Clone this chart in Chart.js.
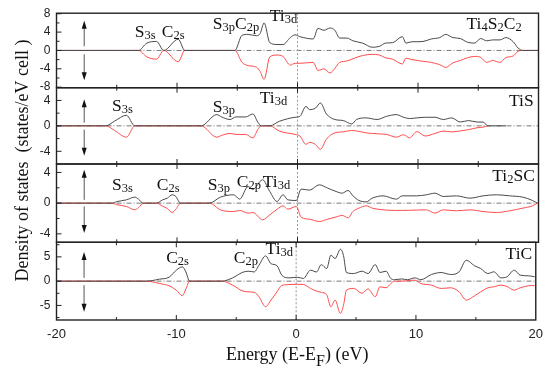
<!DOCTYPE html>
<html><head><meta charset="utf-8">
<script src="https://cdn.jsdelivr.net/npm/chart.js@4"></script>
<style>
html,body{margin:0;padding:0;background:#fff;}
#wrap{position:relative;width:550px;height:369px;background:#fff;}
canvas{position:absolute;left:0;top:0;}
</style></head><body>
<div id="wrap">
<canvas id="c1" width="550" height="369"></canvas>
<canvas id="c2" width="550" height="369"></canvas>
<canvas id="c3" width="550" height="369"></canvas>
<canvas id="c4" width="550" height="369"></canvas>
</div>
<script>
// ---------- data ----------
const xTickLabels = [-20, -10, 0, 10, 20];

const energyTi4S2C2 = [-20,-13.2,-12.5,-11.7,-11.1,-9.9,-9.35,-5.2,-4.6,-4.1,-3.4,-3.1,-2.77,-2.3,-1.7,-1.2,-0.6,-0.2,0.2,1.3,1.7,2.2,2.7,3.1,3.5,4.1,4.6,5.4,6.2,6.8,7.3,7.9,8.7,9.0,9.5,10.0,10.5,11.1,11.8,12.3,12.9,13.5,14.1,14.7,15.2,15.7,16.2,16.8,17.3,17.9,18.3,18.7,20];
const upTi4S2C2 = [0,0,1.6,1.96,0,2.45,0,0,3.3,3.5,3.2,3.7,6.0,1.7,1.3,1.3,2.8,3.4,3.0,2.5,4.8,4.4,4.9,4.4,2.7,2.7,2.1,1.6,0.7,0.9,1.6,1.7,3.0,1.6,1.9,1.9,2.0,2.5,2.8,3.5,2.8,2.6,1.8,1.6,2.6,2.1,2.3,2.3,2.8,1.9,0.55,0,0];
const downTi4S2C2 = [0,0,-1.4,-1.9,0,-2.46,0,0,-2.6,-3.3,-3.66,-4.6,-6.3,-1.4,-1.0,-1.3,-3.2,-2.8,-2.8,-2.6,-4.36,-4.0,-4.9,-3.9,-2.6,-2.3,-1.8,-1.1,-0.85,-1.0,-1.6,-1.9,-2.95,-1.7,-2.0,-2.2,-2.4,-2.6,-3.1,-3.7,-2.7,-2.2,-1.6,-1.3,-1.5,-2.6,-2.2,-2.6,-1.55,-1.2,-0.2,0,0];

const energyTiS = [-20,-15.9,-15.2,-14.2,-13.5,-8.0,-6.7,-6.3,-5.6,-5.1,-4.3,-3.7,-3.3,-3.0,-2.3,-1.5,-0.2,0.2,0.7,1.0,1.5,1.9,2.4,3.1,3.8,4.5,4.9,5.7,6.6,7.4,8.2,8.8,9.3,9.9,10.6,11.4,12.1,12.8,13.5,14.2,14.9,15.4,15.8,17.3];
const upTiS = [0,0,0.72,1.66,0,0,1.77,1.4,1.0,1.4,1.4,1.87,0.6,0,0,0.72,1.35,1.5,3.06,2.55,2.8,3.6,1.87,1.0,0.83,0.3,1.0,1.25,1.0,1.5,1.77,1.35,1.15,1.25,1.35,1.35,1.0,1.25,0.6,0.83,0.6,0.6,0,0];
const downTiS = [0,0,-0.7,-1.78,0,0,-1.78,-1.5,-1.2,-1.35,-1.35,-1.9,-0.6,0,0,-0.83,-1.35,-1.6,-2.9,-2.6,-2.95,-3.7,-2.1,-1.1,-0.94,-0.73,-0.8,-1.1,-1.25,-1.35,-1.78,-1.4,-1.9,-0.9,-1.6,-1.2,-0.83,-0.95,-0.8,-0.6,-0.3,-0.2,0,null];

const energyTi2SC = [-20,-15.4,-15.0,-14.2,-13.5,-13.2,-12.8,-11.7,-11.2,-10.8,-10.4,-10.1,-9.7,-7.3,-6.4,-5.3,-4.8,-4.1,-3.7,-2.9,-2.3,-1.7,-1.2,-0.8,-0.1,0.3,1.0,1.8,2.5,3.2,3.7,4.2,4.6,5.1,5.7,6.2,7.1,8.2,8.7,9.9,10.7,11.4,12.1,13.2,14.3,15.4,16.5,17.6,18.7,19.5,19.9];
const upTi2SC = [0,0,0.2,0.43,0.78,0.52,0,0,0.43,0.65,1.09,0.87,0,0,0.78,1.09,0.52,2.17,1.8,3.04,1.52,0.22,1.09,0.43,0.35,1.83,1.7,2.39,1.96,1.52,1.3,1.65,0.95,0.35,0.17,0.65,0.95,0.52,0.95,0.95,1.09,1.3,0.87,0.95,0.65,0.95,1.09,0.95,0.78,0.35,0];
const downTi2SC = [0,0,-0.2,-0.43,-0.87,-0.6,0,0,-0.4,-0.7,-1.22,-0.8,0,0,-0.87,-1.09,-0.95,-1.3,-1.22,-2.17,-1.52,-0.8,-0.35,-0.78,-0.43,-1.83,-2.09,-2.39,-2.09,-1.8,-1.6,-1.9,-1.09,-0.65,-0.35,-0.65,-0.87,-0.95,-0.95,-0.9,-0.87,-1.3,-0.87,-1.0,-0.87,-1.09,-1.22,-1.0,-0.65,-0.35,0];

const energyTiC = [-20,-12.5,-11.4,-10.6,-10.0,-9.5,-9.2,-8.9,-6.2,-5.3,-4.5,-4.0,-3.5,-3.1,-2.55,-2.1,-1.6,-1.2,-0.6,0.1,0.6,1.2,1.7,2.1,2.55,2.9,3.25,3.7,3.95,4.2,4.8,5.5,6.0,6.6,7.0,7.5,7.9,8.2,8.8,9.3,9.9,10.4,11.3,12.1,12.9,13.6,14.2,14.9,15.4,16.0,16.5,17.1,17.6,18.2,18.7,19.4,19.9];
const upTiC = [0,0,0.41,0.82,2.26,2.94,1.9,0,0,0.68,1.78,2.05,1.9,3.29,5.2,3.6,3.2,1.23,0.68,0.8,0.55,2.26,1.9,3.4,2.6,5.34,4.66,6.57,5.3,1.78,1.57,2.05,1.57,3.4,1.78,2.05,0.55,0.3,0.45,0.3,0.68,0.3,1.37,1.78,1.37,1.92,4.3,3.15,2.6,1.57,1.92,0.68,0.9,2.26,1.23,1.1,0.9];
const downTiC = [0,0,-0.48,-0.96,-1.85,-3.0,-1.6,0,0,-0.82,-2.0,-2.2,-2.3,-3.2,-5.27,-3.9,-2.2,-0.9,-0.7,-0.65,-0.68,-1.5,-2.05,-2.3,-2.8,-5.27,-3.9,-6.64,-5.0,-1.85,-1.5,-2.5,-1.6,-3.2,-1.16,-1.37,-0.5,0,0,0.1,0.2,-0.48,-0.82,-1.5,-1.37,-2.2,-3.9,-3.0,-2.2,-1.37,-1.16,-0.82,-1.1,-1.85,-1.37,-0.96,-0.9];

// text annotations (parts: [text, isSubscript])
const notesTi4S2C2 = [
  {parts:[['S'],['3s',1]], e:-13.5, v:2.95},
  {parts:[['C'],['2s',1]], e:-11.26, v:2.95},
  {parts:[['S'],['3p',1],['C'],['2p',1]], e:-7.03, v:4.76},
  {parts:[['Ti'],['3d',1]], e:-2.3, v:6.5},
  {parts:[['Ti'],['4',1],['S'],['2',1],['C'],['2',1]], e:18.6, v:4.6, align:'right'}
];
const notesTiS = [
  {parts:[['S'],['3s',1]], e:-15.4, v:2.28},
  {parts:[['S'],['3p',1]], e:-7.03, v:2.19},
  {parts:[['Ti'],['3d',1]], e:-3.13, v:3.6},
  {parts:[['TiS']], e:19.6, v:3.2, align:'right'}
];
const notesTi2SC = [
  {parts:[['S'],['3s',1]], e:-15.4, v:1.73},
  {parts:[['C'],['2s',1]], e:-11.68, v:1.73},
  {parts:[['S'],['3p',1]], e:-7.44, v:1.73},
  {parts:[['C'],['2p',1]], e:-5.04, v:2.09},
  {parts:[['Ti'],['3d',1]], e:-2.88, v:2.09},
  {parts:[['Ti'],['2',1],['SC']], e:19.7, v:2.95, align:'right'}
];
const notesTiC = [
  {parts:[['C'],['2s',1]], e:-10.85, v:3.84},
  {parts:[['C'],['2p',1]], e:-5.2, v:3.84},
  {parts:[['Ti'],['3d',1]], e:-2.55, v:5.69},
  {parts:[['TiC']], e:19.7, v:4.5, align:'right'}
];

// ---------- layout ----------
const SERIF = '"Liberation Serif", "Times New Roman", serif';
const SANS = '"Liberation Sans", Arial, sans-serif';
const panels = [
  {canvas:'c1', energy:energyTi4S2C2, up:upTi4S2C2, down:downTi4S2C2, notes:notesTi4S2C2,
   min:-8.12, max:8.12, top:10.5, bottom:87.7, major:[-8,-4,0,4,8], minor:[-6,-2,2,6], arrows:[0.9,6.5,-0.85,-6.5], topTicks:false},
  {canvas:'c2', energy:energyTiS, up:upTiS, down:downTiS, notes:notesTiS,
   min:-6, max:6, top:87.7, bottom:164, major:[-4,0,4], minor:[-2,2], arrows:[0.5,4.2,-0.6,-4.7], topTicks:true},
  {canvas:'c3', energy:energyTi2SC, up:upTi2SC, down:downTi2SC, notes:notesTi2SC,
   min:-5.1, max:5.1, top:164, bottom:242.3, major:[-4,0,4], minor:[-2,2], arrows:[0.43,4.34,-0.43,-3.9], topTicks:true},
  {canvas:'c4', energy:energyTiC, up:upTiC, down:downTiC, notes:notesTiC,
   min:-8, max:8, top:242.3, bottom:320, major:[-5,0,5], minor:[-7.5,-2.5,2.5,7.5], arrows:[0.68,6.0,-0.82,-6.3], topTicks:true}
];
const xMinor = [-15,-5,5,15];
const arrowE = -17.7;

function drawRich(ctx, parts, x, y, align, size, subSize, subDrop) {
  const widths = parts.map(p => { ctx.font = (p[1] ? subSize : size) + 'px ' + SERIF; return ctx.measureText(p[0]).width; });
  const total = widths.reduce((a,b)=>a+b,0);
  let cx = align === 'right' ? x - total : (align === 'center' ? x - total/2 : x);
  ctx.textAlign = 'left'; ctx.textBaseline = 'alphabetic';
  parts.forEach((p,i) => {
    ctx.font = (p[1] ? subSize : size) + 'px ' + SERIF;
    ctx.fillText(p[0], cx, p[1] ? y + subDrop : y);
    cx += widths[i];
  });
}

function drawArrow(ctx, x, yFrom, yTo) {
  const dir = yTo < yFrom ? -1 : 1;
  ctx.strokeStyle = '#555'; ctx.lineWidth = 1; ctx.setLineDash([]);
  ctx.beginPath(); ctx.moveTo(x, yFrom); ctx.lineTo(x, yTo - dir*4); ctx.stroke();
  ctx.fillStyle = '#111';
  ctx.beginPath(); ctx.moveTo(x, yTo); ctx.lineTo(x-2.5, yTo - dir*8); ctx.lineTo(x+2.5, yTo - dir*8); ctx.closePath(); ctx.fill();
}

function panelPlugin(p, isLast) {
  return {
    id: 'panelDeco',
    beforeDatasetsDraw(chart) {
      const {ctx, chartArea:a, scales:{x, y}} = chart;
      ctx.save();
      const y0 = y.getPixelForValue(0);
      ctx.strokeStyle = '#555'; ctx.lineWidth = 0.8; ctx.setLineDash([5,2,1,2]);
      ctx.beginPath(); ctx.moveTo(a.left, y0); ctx.lineTo(a.right, y0); ctx.stroke();
      const x0 = x.getPixelForValue(0);
      ctx.strokeStyle = '#999'; ctx.lineWidth = 1; ctx.setLineDash([2,2]);
      ctx.beginPath(); ctx.moveTo(x0, a.top); ctx.lineTo(x0, a.bottom); ctx.stroke();
      ctx.restore();
    },
    afterDatasetsDraw(chart) {
      const {ctx, chartArea:a, scales:{x, y}} = chart;
      ctx.save();
      ctx.setLineDash([]);
      ctx.strokeStyle = '#222'; ctx.lineWidth = 1.4;
      ctx.strokeRect(a.left, a.top, a.right - a.left, a.bottom - a.top);
      ctx.lineWidth = 1;
      ctx.beginPath();
      p.major.forEach(v => { const py = y.getPixelForValue(v); ctx.moveTo(a.left, py); ctx.lineTo(a.left+5, py); });
      p.minor.forEach(v => { const py = y.getPixelForValue(v); ctx.moveTo(a.left, py); ctx.lineTo(a.left+3, py); });
      xTickLabels.forEach(v => {
        if (v === -20 || v === 20) return;
        const px = x.getPixelForValue(v);
        ctx.moveTo(px, a.bottom); ctx.lineTo(px, a.bottom-5);
        if (p.topTicks) { ctx.moveTo(px, a.top); ctx.lineTo(px, a.top+5); }
      });
      xMinor.forEach(v => {
        const px = x.getPixelForValue(v);
        ctx.moveTo(px, a.bottom); ctx.lineTo(px, a.bottom-3);
        if (p.topTicks) { ctx.moveTo(px, a.top); ctx.lineTo(px, a.top+3); }
      });
      ctx.stroke();
      const ax = x.getPixelForValue(arrowE);
      drawArrow(ctx, ax, y.getPixelForValue(p.arrows[0]), y.getPixelForValue(p.arrows[1]));
      drawArrow(ctx, ax, y.getPixelForValue(p.arrows[2]), y.getPixelForValue(p.arrows[3]));
      ctx.fillStyle = '#111';
      p.notes.forEach(n => {
        drawRich(ctx, n.parts, x.getPixelForValue(n.e), y.getPixelForValue(n.v), n.align || 'left', 17.5, 12.5, 2);
      });
      ctx.restore();
    },
    afterDraw(chart) {
      if (!isLast) return;
      const {ctx, chartArea:a} = chart;
      ctx.save();
      ctx.fillStyle = '#111';
      drawRich(ctx, [['Energy (E-E'], ['F',1], [') (eV)']], (a.left + a.right)/2 + 1, 359.5, 'center', 18, 16, 6);
      ctx.translate(28, 160.5);
      ctx.rotate(-Math.PI/2);
      ctx.font = '18px ' + SERIF;
      ctx.textAlign = 'center'; ctx.textBaseline = 'alphabetic';
      ctx.fillText('Density of states  (states/eV cell )', 0, 0);
      ctx.restore();
    }
  };
}

function makeChart(p, isLast) {
  const ds = (vals, color) => ({
    data: p.energy.map((e,i) => ({x:e, y:vals[i]})),
    borderColor: color, borderWidth: 1, pointRadius: 0, fill: false,
    cubicInterpolationMode: 'monotone', spanGaps: false
  });
  new Chart(document.getElementById(p.canvas), {
    type: 'line',
    data: {datasets: [ds(p.up, '#4a4a4a'), ds(p.down, '#ff4d4d')]},
    options: {
      responsive: false, animation: false, events: [],
      layout: {padding: {top: p.top, bottom: isLast ? 0 : 369 - p.bottom, left: 0, right: 11.5}},
      plugins: {legend: {display: false}, tooltip: {enabled: false}},
      scales: {
        x: {type: 'linear', min: -20, max: 20, display: isLast,
            grid: {display: false, drawTicks: false}, border: {display: false},
            ticks: {font: {family: SANS, size: 13}, color: '#222', padding: 7, maxRotation: 0, callback: v => String(v)},
            afterBuildTicks: s => { s.ticks = xTickLabels.map(v => ({value: v})); },
            afterFit: s => { s.height = isLast ? 49 : 0; }},
        y: {type: 'linear', min: p.min, max: p.max,
            grid: {display: false, drawTicks: false}, border: {display: false},
            ticks: {font: {family: SANS, size: 12}, color: '#222', padding: 6, callback: v => String(v)},
            afterBuildTicks: s => { s.ticks = p.major.map(v => ({value: v})); },
            afterFit: s => { s.width = 56.5; }}
      }
    },
    plugins: [panelPlugin(p, isLast)]
  });
}

panels.forEach((p, i) => makeChart(p, i === panels.length - 1));
</script>
</body></html>
